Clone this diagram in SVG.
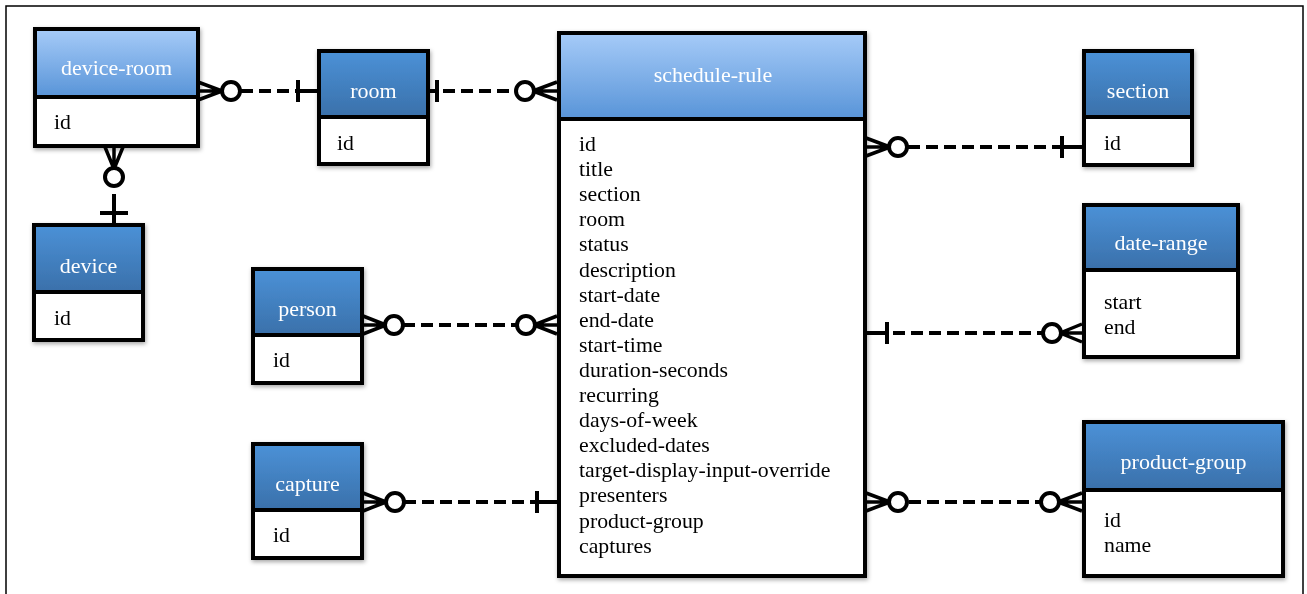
<svg xmlns="http://www.w3.org/2000/svg" width="1307" height="594" viewBox="0 0 1307 594">
  <defs>
    <linearGradient id="gLight" x1="0" y1="0" x2="0" y2="1">
      <stop offset="0" stop-color="#a6cbf8"/>
      <stop offset="1" stop-color="#5894d8"/>
    </linearGradient>
    <linearGradient id="gDark" x1="0" y1="0" x2="0" y2="1">
      <stop offset="0" stop-color="#4b91d7"/>
      <stop offset="1" stop-color="#3a70aa"/>
    </linearGradient>
    <filter id="sh" x="-10%" y="-10%" width="130%" height="130%">
      <feDropShadow dx="1" dy="2" stdDeviation="2" flood-color="#000" flood-opacity="0.35"/>
    </filter>
  </defs>
  <style>
    .box { fill: #ffffff; stroke: #000; stroke-width: 4; }
    .hl { fill: url(#gLight); stroke: #000; stroke-width: 4; }
    .hd { fill: url(#gDark); stroke: #000; stroke-width: 4; }
    .title { font-family: "Liberation Serif", "Times New Roman", serif; font-size: 22px; fill: #ffffff; text-anchor: middle; }
    .field { font-family: "Liberation Serif", "Times New Roman", serif; font-size: 21.8px; fill: #000; }
    .dash { stroke: #000; stroke-width: 4; stroke-dasharray: 12 6; fill: none; }
    .sol { stroke: #000; stroke-width: 4; fill: none; stroke-linecap: square; }
    .crow { stroke: #000; stroke-width: 3.5; fill: none; }
    .ring { stroke: #000; stroke-width: 4; fill: #fff; }
  </style>
  <rect x="0" y="0" width="1307" height="594" fill="#fff"/>
  <rect x="6" y="6" width="1297" height="620" fill="none" stroke="#000" stroke-width="1.5"/>

  <g id="connectors">
    <g id="c-deviceroom-room">
      <path class="crow" d="M198,82 L222,91 M198,100 L222,91 M198,91 L222,91"/>
      <line class="dash" x1="241" y1="91" x2="298" y2="91"/>
      <line class="sol" x1="298" y1="82" x2="298" y2="100"/>
      <line class="sol" x1="298" y1="91" x2="317" y2="91"/>
      <circle class="ring" cx="231" cy="91" r="9"/>
    </g>
    <g id="c-room-schedule">
      <line class="sol" x1="429" y1="91" x2="437" y2="91"/>
      <line class="sol" x1="437" y1="82" x2="437" y2="100"/>
      <line class="dash" x1="443" y1="91" x2="516" y2="91"/>
      <path class="crow" d="M557,82 L533,91 M557,100 L533,91 M557,91 L533,91"/>
      <circle class="ring" cx="525" cy="91" r="9"/>
    </g>
    <g id="c-deviceroom-device">
      <path class="crow" d="M105,147 L114,169 M123,147 L114,169 M114,147 L114,169"/>
      <line class="sol" x1="114" y1="196" x2="114" y2="223"/>
      <line class="sol" x1="102" y1="213" x2="126" y2="213"/>
      <circle class="ring" cx="114" cy="177" r="9"/>
    </g>
    <g id="c-person-schedule">
      <path class="crow" d="M363,316 L386,325 M363,334 L386,325 M363,325 L386,325"/>
      <line class="dash" x1="403" y1="325" x2="517" y2="325"/>
      <path class="crow" d="M557,316 L534,325 M557,334 L534,325 M557,325 L534,325"/>
      <circle class="ring" cx="394" cy="325" r="9"/>
      <circle class="ring" cx="526" cy="325" r="9"/>
    </g>
    <g id="c-capture-schedule">
      <path class="crow" d="M363,493 L386,502 M363,511 L386,502 M363,502 L386,502"/>
      <line class="dash" x1="404" y1="502" x2="537" y2="502"/>
      <line class="sol" x1="537" y1="493" x2="537" y2="511"/>
      <line class="sol" x1="537" y1="502" x2="557" y2="502"/>
      <circle class="ring" cx="395" cy="502" r="9"/>
    </g>
    <g id="c-schedule-section">
      <path class="crow" d="M866,138 L890,147 M866,156 L890,147 M866,147 L890,147"/>
      <line class="dash" x1="908" y1="147" x2="1062" y2="147"/>
      <line class="sol" x1="1062" y1="138" x2="1062" y2="156"/>
      <line class="sol" x1="1062" y1="147" x2="1082" y2="147"/>
      <circle class="ring" cx="898" cy="147" r="9"/>
    </g>
    <g id="c-schedule-daterange">
      <line class="sol" x1="866" y1="333" x2="887" y2="333"/>
      <line class="sol" x1="887" y1="324" x2="887" y2="342"/>
      <line class="dash" x1="893" y1="333" x2="1042" y2="333"/>
      <path class="crow" d="M1082,324 L1060,333 M1082,342 L1060,333 M1082,333 L1060,333"/>
      <circle class="ring" cx="1052" cy="333" r="9"/>
    </g>
    <g id="c-schedule-productgroup">
      <path class="crow" d="M866,493 L890,502 M866,511 L890,502 M866,502 L890,502"/>
      <line class="dash" x1="909" y1="502" x2="1040" y2="502"/>
      <path class="crow" d="M1082,493 L1058,502 M1082,511 L1058,502 M1082,502 L1058,502"/>
      <circle class="ring" cx="898" cy="502" r="9"/>
      <circle class="ring" cx="1050" cy="502" r="9"/>
    </g>
  </g>

  <g id="device-room" filter="url(#sh)">
    <rect class="box" x="35" y="29" width="163" height="117"/>
    <rect class="hl" x="35" y="29" width="163" height="68"/>
    <text class="title" x="116.5" y="75">device-room</text>
    <text class="field" x="54" y="129">id</text>
  </g>

  <g id="room" filter="url(#sh)">
    <rect class="box" x="319" y="51" width="109" height="113"/>
    <rect class="hd" x="319" y="51" width="109" height="66"/>
    <text class="title" x="373.5" y="98">room</text>
    <text class="field" x="337" y="150">id</text>
  </g>

  <g id="device" filter="url(#sh)">
    <rect class="box" x="34" y="225" width="109" height="115"/>
    <rect class="hd" x="34" y="225" width="109" height="67"/>
    <text class="title" x="88.5" y="273">device</text>
    <text class="field" x="54" y="325">id</text>
  </g>

  <g id="person" filter="url(#sh)">
    <rect class="box" x="253" y="269" width="109" height="114"/>
    <rect class="hd" x="253" y="269" width="109" height="66"/>
    <text class="title" x="307.5" y="316">person</text>
    <text class="field" x="273" y="367">id</text>
  </g>

  <g id="capture" filter="url(#sh)">
    <rect class="box" x="253" y="444" width="109" height="114"/>
    <rect class="hd" x="253" y="444" width="109" height="66"/>
    <text class="title" x="307.5" y="491">capture</text>
    <text class="field" x="273" y="542">id</text>
  </g>

  <g id="schedule-rule" filter="url(#sh)">
    <rect class="box" x="559" y="33" width="306" height="543"/>
    <rect class="hl" x="559" y="33" width="306" height="86"/>
    <text class="title" x="713" y="82">schedule-rule</text>
    <text class="field" x="579" y="151">id</text>
    <text class="field" x="579" y="176.1">title</text>
    <text class="field" x="579" y="201.2">section</text>
    <text class="field" x="579" y="226.3">room</text>
    <text class="field" x="579" y="251.4">status</text>
    <text class="field" x="579" y="276.5">description</text>
    <text class="field" x="579" y="301.6">start-date</text>
    <text class="field" x="579" y="326.7">end-date</text>
    <text class="field" x="579" y="351.8">start-time</text>
    <text class="field" x="579" y="376.9">duration-seconds</text>
    <text class="field" x="579" y="402">recurring</text>
    <text class="field" x="579" y="427.1">days-of-week</text>
    <text class="field" x="579" y="452.2">excluded-dates</text>
    <text class="field" x="579" y="477.3">target-display-input-override</text>
    <text class="field" x="579" y="502.4">presenters</text>
    <text class="field" x="579" y="527.5">product-group</text>
    <text class="field" x="579" y="552.6">captures</text>
  </g>

  <g id="section" filter="url(#sh)">
    <rect class="box" x="1084" y="51" width="108" height="114"/>
    <rect class="hd" x="1084" y="51" width="108" height="66"/>
    <text class="title" x="1138" y="98">section</text>
    <text class="field" x="1104" y="150">id</text>
  </g>

  <g id="date-range" filter="url(#sh)">
    <rect class="box" x="1084" y="205" width="154" height="152"/>
    <rect class="hd" x="1084" y="205" width="154" height="65"/>
    <text class="title" x="1161" y="250">date-range</text>
    <text class="field" x="1104" y="309">start</text>
    <text class="field" x="1104" y="334">end</text>
  </g>

  <g id="product-group" filter="url(#sh)">
    <rect class="box" x="1084" y="422" width="199" height="154"/>
    <rect class="hd" x="1084" y="422" width="199" height="68"/>
    <text class="title" x="1183.5" y="469">product-group</text>
    <text class="field" x="1104" y="527">id</text>
    <text class="field" x="1104" y="552">name</text>
  </g>
</svg>
